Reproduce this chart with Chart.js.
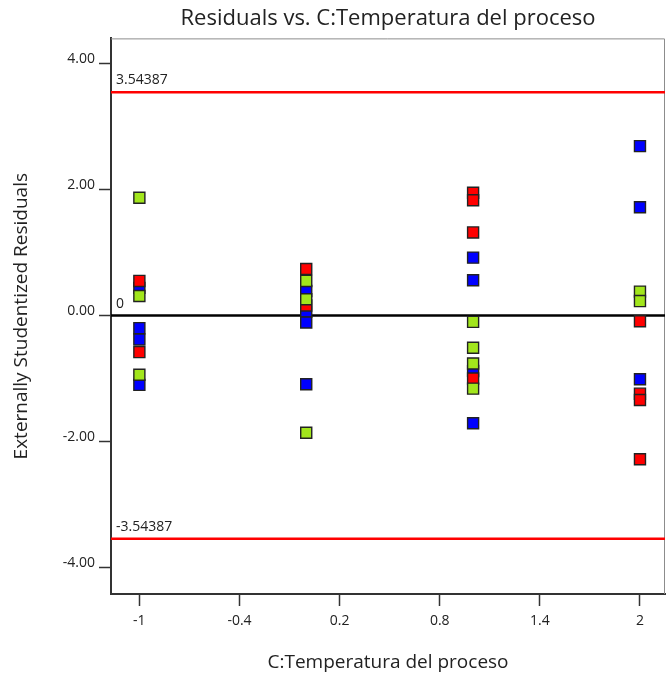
<!DOCTYPE html>
<html>
<head>
<meta charset="utf-8">
<script src="https://cdn.jsdelivr.net/npm/chart.js@4/dist/chart.umd.min.js"></script>
<style>
  html, body { margin: 0; padding: 0; background: #fff; }
  #wrap { width: 666px; height: 681px; }
</style>
</head>
<body>
<div id="wrap"><canvas id="grafico"></canvas></div>
<script>
// factor levels on the x axis and the residuals read at each level
const xTicks = [-1, -0.4, 0.2, 0.8, 1.4, 2];
const xTickLabels = ["-1", "-0.4", "0.2", "0.8", "1.4", "2"];
const yTicks = [-4, -2, 0, 2, 4];

const redX   = [-1, -1, 0, 0, 1, 1, 1, 1, 2, 2, 2, 2];
const redY   = [0.55, -0.58, 0.74, 0.16, 1.95, 1.83, 1.32, -1.00, -0.09, -1.24, -1.34, -2.28];

const greenX = [-1, -1, -1, 0, 0, 0, 1, 1, 1, 1, 2, 2];
const greenY = [1.87, 0.31, -0.94, 0.55, 0.26, -1.86, -0.10, -0.51, -0.76, -1.16, 0.38, 0.23];

const blueX  = [-1, -1, -1, -1, 0, 0, 0, 0, 1, 1, 1, 1, 2, 2, 2];
const blueY  = [0.44, -0.20, -0.38, -1.10, 0.39, 0.06, -0.11, -1.09, 0.92, 0.56, -0.88, -1.71, 2.69, 1.72, -1.01];

// control limits and the zero line
const limitValues = [3.54387, 0, -3.54387];
const limitLabels = ["3.54387", "0", "-3.54387"];
const limitColors = ["#ff0000", "#000000", "#ff0000"];

const font = "'Open Sans', 'Noto Sans', sans-serif";

function pares(xs, ys) {
  return xs.map((x, i) => ({ x: x, y: ys[i] }));
}

function serie(xs, ys, cor) {
  return {
    data: pares(xs, ys),
    pointStyle: "rect",
    pointRadius: 7.8,
    pointHoverRadius: 7.8,
    pointBackgroundColor: cor,
    pointBorderColor: "#222",
    pointBorderWidth: 1.4,
    showLine: false
  };
}

// light frame on top/right, limit lines with their labels
const linhas = {
  id: "linhas",
  beforeDatasetsDraw(chart) {
    const { ctx, chartArea: a, scales: { y } } = chart;
    ctx.save();
    ctx.strokeStyle = "#8c8c8c";
    ctx.lineWidth = 1;
    ctx.beginPath();
    ctx.moveTo(a.left, a.top + 0.5);
    ctx.lineTo(a.right - 0.5, a.top + 0.5);
    ctx.lineTo(a.right - 0.5, a.bottom);
    ctx.stroke();

    ctx.font = "14px " + font;
    ctx.textBaseline = "middle";
    ctx.textAlign = "left";
    limitValues.forEach((v, i) => {
      const py = y.getPixelForValue(v);
      ctx.strokeStyle = limitColors[i];
      ctx.lineWidth = 2.5;
      ctx.beginPath();
      ctx.moveTo(a.left, py);
      ctx.lineTo(a.right, py);
      ctx.stroke();
      ctx.fillStyle = "#222";
      ctx.fillText(limitLabels[i], a.left + 5, py - 12);
    });
    ctx.restore();
  }
};

new Chart(document.getElementById("grafico"), {
  type: "scatter",
  data: {
    datasets: [
      serie(greenX, greenY, "#a2e61c"),
      serie(redX, redY, "#ff0000"),
      serie(blueX, blueY, "#0000ff")
    ]
  },
  options: {
    responsive: true,
    maintainAspectRatio: false,
    animation: false,
    layout: { autoPadding: false, padding: { top: 0, right: 1, bottom: 0, left: 0 } },
    plugins: {
      legend: { display: false },
      tooltip: { enabled: false },
      title: {
        display: true,
        fullSize: false,
        text: "Residuals vs. C:Temperatura del proceso",
        color: "#222",
        font: { family: font, size: 22, weight: "normal" },
        padding: { top: 6, bottom: 6 }
      }
    },
    scales: {
      x: {
        type: "linear",
        min: -1.17,
        max: 2.15,
        afterBuildTicks: s => { s.ticks = xTicks.map(v => ({ value: v })); },
        afterFit: s => { s.height = 87; },
        ticks: {
          color: "#222",
          font: { family: font, size: 14 },
          padding: 7,
          callback: (v, i) => xTickLabels[i]
        },
        grid: {
          drawOnChartArea: false,
          drawTicks: true,
          tickLength: 12,
          tickWidth: 1.5,
          tickColor: "#333"
        },
        border: { color: "#333", width: 2 },
        title: {
          display: true,
          text: "C:Temperatura del proceso",
          color: "#222",
          font: { family: font, size: 19 },
          padding: { top: 0, bottom: 7 }
        }
      },
      y: {
        type: "linear",
        min: -4.42,
        max: 4.40,
        afterBuildTicks: s => { s.ticks = yTicks.map(v => ({ value: v })); },
        afterFit: s => { s.width = 111; },
        ticks: {
          color: "#222",
          font: { family: font, size: 14 },
          padding: 4,
          labelOffset: -5,
          callback: v => v.toFixed(2)
        },
        grid: {
          drawOnChartArea: false,
          drawTicks: true,
          tickLength: 12,
          tickWidth: 1.5,
          tickColor: "#333"
        },
        border: { color: "#333", width: 2 },
        title: {
          display: true,
          text: "Externally Studentized Residuals",
          color: "#222",
          font: { family: font, size: 19 },
          padding: { top: 10, bottom: 0 }
        }
      }
    }
  },
  plugins: [linhas]
});
</script>
</body>
</html>
